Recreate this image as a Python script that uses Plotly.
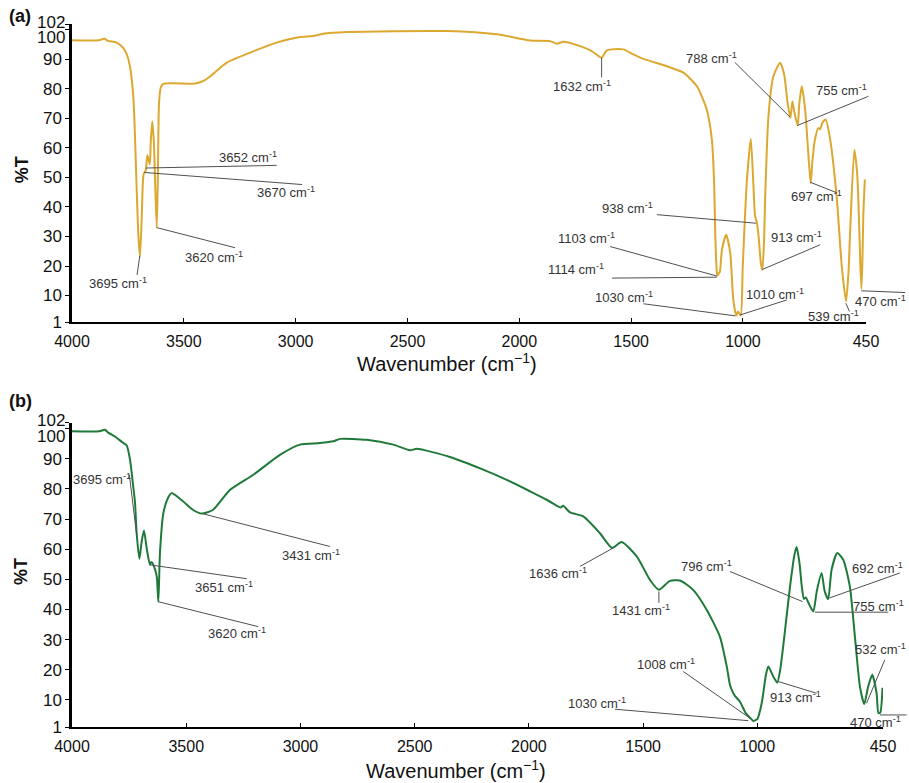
import plotly.graph_objects as go

# ---------------- data ----------------
# Panel (a) spectrum: wavenumber (cm-1) and %T
wn_a = [4000, 3880, 3855, 3840, 3800, 3772, 3755, 3741, 3725, 3714,
        3704, 3696, 3688, 3680, 3670, 3663, 3652, 3648, 3641, 3634,
        3627, 3621, 3616, 3611, 3603, 3590, 3450, 3410, 3383, 3308,
        3204, 3085, 2980, 2922, 2878, 2772, 2324, 2101, 1952, 1862,
        1832, 1803, 1728, 1680, 1632, 1610, 1587, 1535, 1490, 1445,
        1340, 1266, 1206, 1162, 1139, 1129, 1124, 1117, 1114, 1108,
        1103, 1094, 1075, 1057, 1043, 1030, 1022, 1010, 1001, 983,
        965, 953, 946, 938, 930, 920, 913, 905, 901, 886,
        864, 834, 816, 800, 788, 779, 770, 755, 748, 737,
        722, 705, 697, 690, 680, 663, 655, 645, 630, 610,
        580, 558, 539, 528, 521, 502, 490, 484, 475, 470,
        465, 462, 455]
t_a = [96.5, 96.5, 97.0, 96.3, 95.7, 94.0, 91.7, 87.7, 76.4, 53.8,
       31.3, 23.2, 36.8, 51.0, 52.5, 57.5, 54.5, 62.0, 69.0, 62.0,
       45.0, 33.0, 50.0, 75.0, 80.5, 81.8, 81.8, 82.8, 84.2, 88.9,
       92.3, 95.7, 97.6, 97.9, 98.7, 99.3, 99.6, 98.5, 96.4, 96.2,
       95.3, 96.0, 94.5, 93.0, 90.6, 93.0, 93.4, 93.4, 91.7, 90.2,
       87.7, 85.5, 80.9, 73.0, 62.8, 48.3, 31.3, 18.0, 16.7, 17.5,
       18.1, 25.5, 30.6, 24.5, 8.5, 3.2, 4.6, 3.2, 19.8, 48.3,
       63.1, 47.0, 37.0, 34.8, 30.0, 21.0, 18.7, 30.0, 42.5, 70.8,
       84.3, 88.9, 85.0, 75.0, 70.2, 75.8, 72.0, 67.6, 75.0, 80.9,
       73.0, 55.0, 48.1, 55.0, 62.0, 66.8, 66.3, 68.5, 69.6, 62.8,
       42.5, 19.8, 8.0, 18.0, 31.3, 59.4, 52.0, 42.5, 20.0, 12.2,
       25.0, 36.8, 49.3]

# Panel (b) spectrum
wn_b = [4000, 3880, 3856, 3840, 3812, 3780, 3761, 3746, 3732, 3724,
        3717, 3705, 3695, 3685, 3672, 3659, 3655, 3650, 3641, 3629,
        3622, 3615, 3600, 3580, 3564, 3513, 3470, 3431, 3382, 3308,
        3206, 3090, 3002, 2915, 2856, 2827, 2710, 2594, 2521, 2491,
        2346, 2200, 2097, 1995, 1922, 1878, 1862, 1850, 1820, 1762,
        1689, 1636, 1594, 1528, 1470, 1431, 1383, 1339, 1281, 1222,
        1164, 1134, 1120, 1112, 1100, 1076, 1050, 1030, 1018, 1008,
        1000, 981, 962, 952, 930, 913, 900, 887, 857, 838,
        828, 815, 806, 796, 788, 775, 755, 740, 719, 705,
        690, 675, 650, 624, 595, 573, 551, 532, 515, 497,
        478, 470, 462, 452]
t_b = [99.1, 99.1, 99.6, 98.6, 97.4, 95.5, 94.5, 89.7, 80.8, 75.3,
       65.3, 56.8, 62.5, 66.2, 59.8, 54.8, 55.6, 55.6, 54.3, 50.9,
       42.6, 58.7, 72.0, 77.0, 78.6, 75.8, 73.0, 71.8, 73.1, 79.7,
       84.7, 91.3, 94.7, 95.2, 95.8, 96.6, 96.3, 94.7, 92.8, 93.3,
       90.6, 86.4, 83.0, 79.2, 76.4, 74.4, 73.8, 74.4, 72.2, 70.9,
       65.3, 60.4, 62.4, 57.6, 49.8, 46.5, 49.5, 49.6, 46.5, 39.9,
       31.0, 21.1, 15.0, 13.3, 11.5, 9.4, 5.5, 3.9, 3.0, 3.3,
       3.6, 8.9, 18.5, 21.1, 17.7, 15.7, 20.0, 27.7, 47.6, 58.0,
       60.7, 55.0, 48.0, 43.5, 44.0, 42.0, 39.3, 46.0, 52.1, 46.0,
       43.4, 53.2, 58.7, 56.5, 47.6, 31.0, 14.4, 8.6, 14.4, 18.3,
       12.2, 5.6, 5.8, 14.0]

x_tickvals = [4000, 3500, 3000, 2500, 2000, 1500, 1000, 450]
y_tickvals = [1, 10, 20, 30, 40, 50, 60, 70, 80, 90]
y_top_vals = [100, 102]

# peak labels: (label, tip wn, tip %T, line-end wn, line-end %T, text wn, text %T)
peaks_a = [
    ("3695", 3697, 23.4, 3709, 17.0, 3794, 14.3),
    ("3652", 3670, 53.2, 3085, 54.1, 3213, 57.0),
    ("3670", 3677, 51.7, 2971, 47.6, 3043, 45.2),
    ("3620", 3621, 33.0, 3271, 26.2, 3365, 23.2),
    ("1632", 1632, 90.6, 1632, 83.9, 1720, 80.9),
    ("788", 789, 70.4, 1035, 88.9, 1139, 90.6),
    ("755", 757, 67.6, 439, 77.5, 558, 79.8),
    ("697", 700, 48.4, 580, 44.8, 670, 43.8),
    ("938", 942, 34.5, 1385, 37.4, 1516, 39.7),
    ("913", 914, 18.8, 655, 27.2, 762, 29.8),
    ("1103", 1117, 16.6, 1594, 26.6, 1701, 29.6),
    ("1114", 1117, 16.2, 1585, 15.9, 1746, 19.1),
    ("1030", 1034, 3.1, 1445, 7.2, 1531, 9.6),
    ("1010", 1013, 3.4, 804, 8.5, 856, 10.6),
    ("539", 540, 7.4, 524, 4.6, 595, 3.1),
    ("470", 471, 11.6, 275, 11.0, 385, 8.0),
]
peaks_b = [
    ("3695", 3717, 64.8, 3749, 84.7, 3867, 83.3),
    ("3651", 3659, 54.8, 3235, 50.2, 3335, 47.6),
    ("3620", 3624, 42.6, 3185, 34.3, 3279, 32.1),
    ("3431", 3425, 71.7, 2871, 60.9, 2954, 58.1),
    ("1636", 1631, 60.4, 1776, 54.3, 1873, 52.1),
    ("1431", 1431, 46.0, 1431, 42.2, 1510, 39.9),
    ("1008", 1032, 3.9, 1324, 19.4, 1402, 22.0),
    ("1030", 1040, 3.1, 1623, 6.9, 1704, 9.1),
    ("913", 909, 16.1, 741, 12.2, 835, 10.9),
    ("796", 802, 42.6, 1120, 52.6, 1222, 54.5),
    ("755", 748, 39.1, 427, 39.1, 468, 41.2),
    ("692", 685, 43.8, 376, 52.1, 476, 53.7),
    ("532", 522, 8.9, 442, 23.3, 462, 26.8),
    ("470", 463, 5.0, 347, 5.0, 483, 2.8),
]

# ---------------- layout helpers ----------------
X_RANGE = [4000, 450]
Y_RANGE = [1, 102]
DOM = {
    "a": dict(x=[0.0, 0.979], y=[0.576, 1.0]),
    "b": dict(x=[0.0, 1.0], y=[0.0, 0.433]),
}
FONT = "Liberation Sans, Arial, sans-serif"
GOLD = "#DCA830"
GREEN = "#1F7A3A"


def to_px(panel, wn):
    d0, d1 = DOM[panel]["x"]
    return d0 + (X_RANGE[0] - wn) / (X_RANGE[0] - X_RANGE[1]) * (d1 - d0)


def to_py(panel, t):
    d0, d1 = DOM[panel]["y"]
    return d0 + (t - Y_RANGE[0]) / (Y_RANGE[1] - Y_RANGE[0]) * (d1 - d0)


fig = go.Figure()
fig.add_trace(go.Scatter(x=wn_a, y=t_a, mode="lines", xaxis="x", yaxis="y",
                         line=dict(color=GOLD, width=2, shape="spline", smoothing=0.6),
                         showlegend=False, hoverinfo="skip"))
fig.add_trace(go.Scatter(x=wn_b, y=t_b, mode="lines", xaxis="x2", yaxis="y2",
                         line=dict(color=GREEN, width=2, shape="spline", smoothing=0.6),
                         showlegend=False, hoverinfo="skip"))

shapes = []
annotations = []
for panel, peaks in (("a", peaks_a), ("b", peaks_b)):
    for lab, tw, tt, ew, et, xw, xt in peaks:
        shapes.append(dict(type="line", xref="paper", yref="paper",
                           x0=to_px(panel, tw), y0=to_py(panel, tt),
                           x1=to_px(panel, ew), y1=to_py(panel, et),
                           line=dict(color="#505050", width=1)))
        annotations.append(dict(text=lab + " cm<sup>-1</sup>", xref="paper", yref="paper",
                                x=to_px(panel, xw), y=to_py(panel, xt),
                                xanchor="center", yanchor="middle", showarrow=False,
                                font=dict(family=FONT, size=13, color="#333333")))
    # 100 / 102 labels at the top of the y axis
    for v, shift in zip(y_top_vals, (-8, 2)):
        annotations.append(dict(text=str(v), xref="paper", yref="paper",
                                x=DOM[panel]["x"][0], y=to_py(panel, v),
                                xanchor="right", yanchor="middle", xshift=-5, yshift=shift,
                                showarrow=False, font=dict(family=FONT, size=17, color="#111")))
    ymid = (DOM[panel]["y"][0] + DOM[panel]["y"][1]) / 2
    annotations.append(dict(text="<b>%T</b>", xref="paper", yref="paper", x=-0.062,
                            y=ymid + 0.005, textangle=-90, showarrow=False,
                            xanchor="center", yanchor="middle",
                            font=dict(family=FONT, size=18, color="#111")))
    annotations.append(dict(text="Wavenumber (cm<sup>−1</sup>)", xref="paper", yref="paper",
                            x=0.462 if panel == "a" else 0.473,
                            y=DOM[panel]["y"][0] - (0.057 if panel == "a" else 0.061),
                            showarrow=False, xanchor="center", yanchor="middle",
                            font=dict(family=FONT, size=20, color="#111")))

annotations.append(dict(text="<b>(a)</b>", xref="paper", yref="paper", x=-0.064, y=1.0115,
                        showarrow=False, xanchor="center", yanchor="middle",
                        font=dict(family=FONT, size=18, color="#111")))
annotations.append(dict(text="<b>(b)</b>", xref="paper", yref="paper", x=-0.064, y=0.4637,
                        showarrow=False, xanchor="center", yanchor="middle",
                        font=dict(family=FONT, size=18, color="#111")))

xaxis_common = dict(range=X_RANGE, tickvals=x_tickvals, ticktext=[str(v) for v in x_tickvals],
                    showline=True, linecolor="black", linewidth=2.2, showgrid=False, zeroline=False,
                    ticks="inside", ticklen=4, tickwidth=1.2, tickcolor="black",
                    tickfont=dict(family=FONT, size=16, color="#111"), ticklabelstandoff=4)
yaxis_common = dict(range=Y_RANGE, tickvals=y_tickvals + y_top_vals,
                    ticktext=[str(v) for v in y_tickvals] + ["", ""],
                    showline=True, linecolor="black", linewidth=2.5, showgrid=False, zeroline=False,
                    ticks="outside", ticklen=4, tickwidth=1.2, tickcolor="black",
                    tickfont=dict(family=FONT, size=17, color="#111"))

fig.update_layout(
    width=909, height=783,
    margin=dict(l=72, r=26, t=24, b=56),
    paper_bgcolor="white", plot_bgcolor="white",
    xaxis=dict(domain=DOM["a"]["x"], anchor="y", **xaxis_common),
    yaxis=dict(domain=DOM["a"]["y"], anchor="x", **yaxis_common),
    xaxis2=dict(domain=DOM["b"]["x"], anchor="y2", **xaxis_common),
    yaxis2=dict(domain=DOM["b"]["y"], anchor="x2", **yaxis_common),
    shapes=shapes,
    annotations=annotations,
)

fig.write_html("out.html",
               config={"displayModeBar": False},
               post_script="document.body.style.margin='0';document.body.style.overflow='hidden';")
